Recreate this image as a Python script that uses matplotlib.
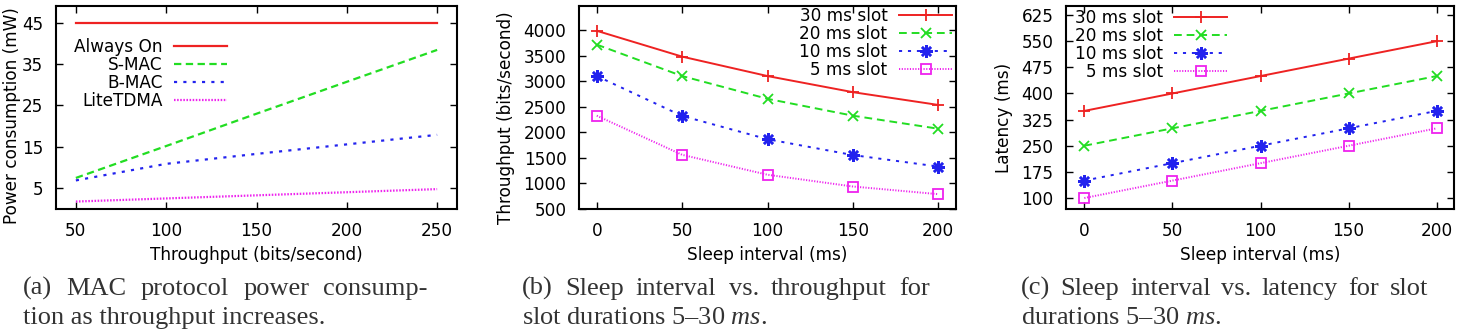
import numpy as np
import matplotlib
matplotlib.use('Agg')
import matplotlib.pyplot as plt

plt.rcParams['font.family'] = ['DejaVu Sans']
plt.rcParams['mathtext.fontset'] = 'custom'
plt.rcParams['mathtext.rm'] = 'Liberation Serif'
plt.rcParams['mathtext.it'] = 'Liberation Serif:italic'

# (a) power consumption vs throughput
tput = [50, 100, 150, 200, 250]
always_on = [45, 45, 45, 45, 45]
smac = [7.5, 15.2, 23.0, 30.7, 38.4]
bmac = [6.9, 10.9, 13.3, 15.6, 17.9]
litetdma = [1.8, 2.55, 3.3, 4.05, 4.8]

# (b)/(c) sleep interval sweeps
sleep = [0, 50, 100, 150, 200]
slots = ['30 ms slot', '20 ms slot', '10 ms slot', '5 ms slot']
thr_30 = [3985, 3480, 3100, 2785, 2535]
thr_20 = [3715, 3100, 2655, 2325, 2070]
thr_10 = [3100, 2320, 1865, 1555, 1330]
thr_5 = [2325, 1560, 1170, 940, 790]
lat_30 = [350, 400, 450, 500, 550]
lat_20 = [250, 300, 350, 400, 450]
lat_10 = [150, 200, 250, 300, 350]
lat_5 = [100, 150, 200, 250, 300]

RED, GREEN, BLUE, MAG = '#ee2222', '#22dd22', '#2222ee', '#ee22ee'
FS = 12.2
W, H = 1465, 336

fig = plt.figure(figsize=(W / 100, H / 100), dpi=100)


def px_axes(l, r, t, b):
    return fig.add_axes([l / W, 1 - b / H, (r - l) / W, (b - t) / H])


def style(ax):
    for s in ax.spines.values():
        s.set_linewidth(1.5)
    ax.tick_params(direction='in', length=5, width=1, top=True, right=True,
                   labelsize=FS, pad=9)


def legend(ax, x, y):
    leg = ax.legend(loc='upper right', bbox_to_anchor=(x, y), frameon=False,
                    markerfirst=False, fontsize=FS, handlelength=3.1,
                    handletextpad=0.7, labelspacing=0.0, borderpad=0,
                    borderaxespad=0, numpoints=1)
    return leg


series_style = [
    dict(color=RED, ls='-', marker='+', ms=8, mew=1.3),
    dict(color=GREEN, ls=(0, (4, 2.5)), marker='x', ms=7, mew=1.3),
    dict(color=BLUE, ls=(0, (1.6, 3)), marker=(8, 2, 0), ms=9, mew=1.8),
    dict(color=MAG, ls=(0, (0.6, 0.8)), marker='s', ms=7, mew=1.3, mfc='none'),
]

# ---- (a)
ax = px_axes(56, 457, 6, 209)
ax.plot(tput, always_on, color=RED, lw=1.6, label='Always On')
ax.plot(tput, smac, color=GREEN, lw=1.6, ls=(0, (3.3, 2.0)), label='S-MAC')
ax.plot(tput, bmac, color=BLUE, lw=1.6, ls=(0, (1.4, 2.8)), label='B-MAC')
ax.plot(tput, litetdma, color=MAG, lw=1.6, ls=(0, (0.7, 0.7)), label='LiteTDMA')
ax.set_xlim(39, 261)
ax.set_ylim(0, 49)
ax.set_xticks(tput)
ax.set_yticks([5, 15, 25, 35, 45])
style(ax)
ax.set_xlabel('Throughput (bits/second)', fontsize=FS, labelpad=5)
ax.set_ylabel('Power consumption (mW)', fontsize=FS)
ax.yaxis.set_label_coords(-0.088, 0.46)
legend(ax, 0.426, 0.842)

# ---- (b)
ax = px_axes(579, 956, 6, 209)
for ys, lab, st in zip([thr_30, thr_20, thr_10, thr_5], slots, series_style):
    ax.plot(sleep, ys, lw=1.4, label=lab, **st)
ax.set_xlim(-10.4, 210.4)
ax.set_ylim(500, 4470)
ax.set_xticks(sleep)
ax.set_yticks(np.arange(500, 4001, 500))
style(ax)
ax.set_xlabel('Sleep interval (ms)', fontsize=FS, labelpad=5)
ax.set_ylabel('Throughput (bits/second)', fontsize=FS)
ax.yaxis.set_label_coords(-0.170, 0.45)
legend(ax, 0.989, 0.995)

# ---- (c)
ax = px_axes(1066, 1454, 6, 209)
for ys, lab, st in zip([lat_30, lat_20, lat_10, lat_5], slots, series_style):
    ax.plot(sleep, ys, lw=1.4, label=lab, **st)
ax.set_xlim(-10.4, 209.8)
ax.set_ylim(68.5, 651)
ax.set_xticks(sleep)
ax.set_yticks(np.arange(100, 626, 75))
style(ax)
ax.set_xlabel('Sleep interval (ms)', fontsize=FS, labelpad=5)
ax.set_ylabel('Latency (ms)', fontsize=FS)
ax.yaxis.set_label_coords(-0.137, 0.45)
legend(ax, 0.415, 0.985)

# ---- captions
CAP = dict(family='Liberation Serif', fontsize=19, color='#333333', va='baseline')
r = fig.canvas.get_renderer()


def justified(words, x0, x1, y):
    texts = [fig.text(0, 1 - y / H, w, **CAP) for w in words]
    widths = [t.get_window_extent(r).width for t in texts]
    gap = (x1 - x0 - sum(widths)) / (len(words) - 1)
    x = x0
    for t, w in zip(texts, widths):
        t.set_x(x / W)
        x += w + gap


def plain(s, x0, y):
    fig.text(x0 / W, 1 - y / H, s, **CAP)


justified(['(a)', 'MAC', 'protocol', 'power', 'consump-'], 23, 428, 295)
plain('tion as throughput increases.', 23, 324)
justified(['(b)', 'Sleep', 'interval', 'vs.', 'throughput', 'for'], 522, 930, 295)
plain('slot durations 5\u201330 $\\mathit{ms}$.', 522, 324)
justified(['(c)', 'Sleep', 'interval', 'vs.', 'latency', 'for', 'slot'], 1021, 1428, 295)
plain('durations 5\u201330 $\\mathit{ms}$.', 1021, 324)

fig.savefig('out.png', dpi=100)
